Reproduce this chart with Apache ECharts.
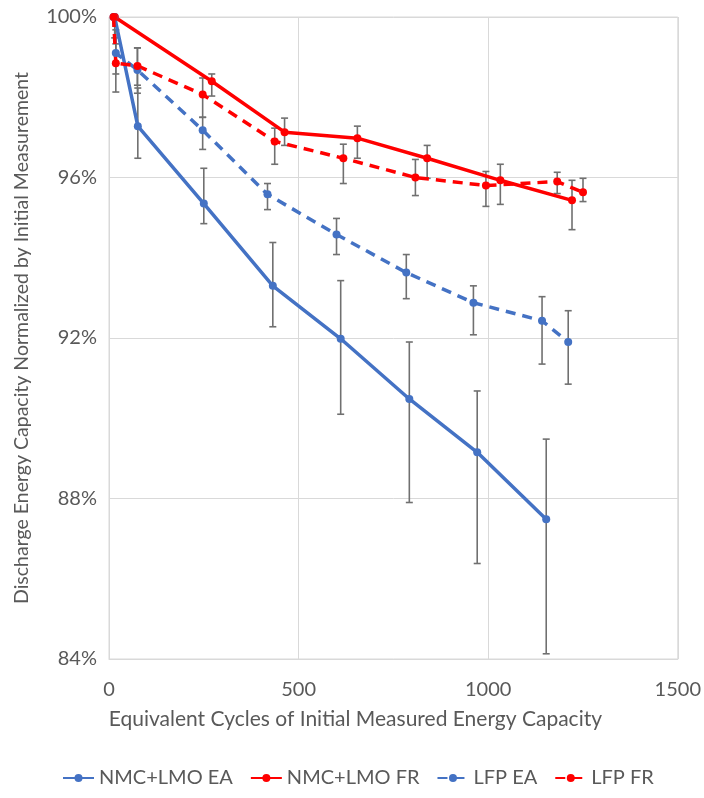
<!DOCTYPE html>
<html>
<head>
<meta charset="utf-8">
<script src="https://cdn.jsdelivr.net/npm/echarts@6/dist/echarts.min.js"></script>
<style>html,body{margin:0;padding:0;background:#fff}#c{width:704px;height:798px}</style>
</head>
<body>
<div id="c"></div>
<script>
// NMC+LMO EA
const nmcEaX = [15, 76, 250, 432, 611, 792, 971, 1153];
const nmcEaY = [100, 97.28, 95.35, 93.3, 91.98, 90.48, 89.15, 87.48];
const nmcEaHi = [100, 98.23, 96.23, 94.38, 93.43, 91.9, 90.68, 89.48];
const nmcEaLo = [99.48, 96.48, 94.85, 92.28, 90.1, 87.9, 86.38, 84.13];
// NMC+LMO FR
const nmcFrX = [15, 271, 463, 655, 839, 1032, 1221];
const nmcFrY = [100, 98.4, 97.13, 96.98, 96.48, 95.93, 95.43];
const nmcFrHi = [100, 98.58, 97.48, 97.28, 96.8, 96.33, 95.93];
const nmcFrLo = [100, 98.03, 96.8, 96.48, 95.98, 95.33, 94.7];
// LFP EA
const lfpEaX = [12, 18, 75, 247, 418, 600, 784, 961, 1142, 1211];
const lfpEaY = [100, 99.1, 98.68, 97.18, 95.58, 94.58, 93.63, 92.88, 92.43, 91.9];
const lfpEaHi = [100, 99.68, 99.23, 97.5, 95.85, 94.98, 94.08, 93.3, 93.03, 92.68];
const lfpEaLo = [100, 98.58, 98.1, 96.7, 95.2, 94.08, 92.98, 92.08, 91.35, 90.85];
// LFP FR
const lfpFrX = [12, 18, 75, 247, 437, 618, 808, 994, 1182, 1250];
const lfpFrY = [100, 98.85, 98.78, 98.07, 96.9, 96.48, 96.0, 95.8, 95.9, 95.63];
const lfpFrHi = [100, 99.33, 99.23, 98.48, 97.23, 96.83, 96.45, 96.15, 96.13, 95.98];
const lfpFrLo = [100, 98.13, 98.3, 97.5, 96.33, 95.85, 95.55, 95.28, 95.6, 95.4];

const seriesNames = ['NMC+LMO EA', 'NMC+LMO FR', 'LFP EA', 'LFP FR'];
const yTicks = [84, 88, 92, 96, 100];
const xTicks = [0, 500, 1000, 1500];

const BLUE = '#4472C4', RED = '#FF0000';
const FONT = 'Lato';

function pts(xs, ys) { return xs.map((x, i) => [x, ys[i]]); }
function errs(xs, lo, hi) { return xs.map((x, i) => [x, lo[i], hi[i]]); }

function lineSeries(name, xs, ys, color, dashed) {
  return {
    name, type: 'line', data: pts(xs, ys), z: 5,
    symbol: 'circle', symbolSize: 8, showSymbol: true,
    lineStyle: { color, width: 3.5, type: dashed ? [10, 7] : 'solid' },
    itemStyle: { color },
    animation: false
  };
}
function errSeries(xs, lo, hi) {
  return {
    type: 'custom', z: 3, silent: true, animation: false,
    data: errs(xs, lo, hi),
    renderItem(params, api) {
      const x = api.value(0);
      const a = api.coord([x, api.value(1)]);
      const b = api.coord([x, api.value(2)]);
      if (Math.abs(a[1] - b[1]) < 0.5) return null;
      const w = 3.5;
      const st = { stroke: '#707070', lineWidth: 1.6 };
      return {
        type: 'group', children: [
          { type: 'line', shape: { x1: a[0], y1: a[1], x2: b[0], y2: b[1] }, style: st },
          { type: 'line', shape: { x1: a[0] - w, y1: a[1], x2: a[0] + w, y2: a[1] }, style: st },
          { type: 'line', shape: { x1: b[0] - w, y1: b[1], x2: b[0] + w, y2: b[1] }, style: st }
        ]
      };
    }
  };
}

const chart = echarts.init(document.getElementById('c'));
chart.setOption({
  backgroundColor: '#fff',
  textStyle: { fontFamily: FONT },
  grid: { left: 109, right: 25, top: 17, bottom: 139, show: true, borderColor: '#d9d9d9', borderWidth: 1 },
  xAxis: {
    type: 'value', min: xTicks[0], max: xTicks[xTicks.length - 1], interval: 500,
    name: 'Equivalent Cycles of Initial Measured Energy Capacity',
    nameLocation: 'middle', nameGap: 50,
    nameTextStyle: { fontFamily: FONT, fontSize: 21, color: '#595959', padding: [0, 76, 0, 0] },
    axisLine: { lineStyle: { color: '#d9d9d9' } },
    axisTick: { show: false },
    axisLabel: { fontFamily: FONT, fontSize: 20, color: '#595959', margin: 21, formatter: v => String(v) },
    splitLine: { lineStyle: { color: '#d9d9d9' } }
  },
  yAxis: {
    type: 'value', min: yTicks[0], max: yTicks[yTicks.length - 1], interval: 4,
    name: 'Discharge Energy Capacity Normalized by Initial Measurement',
    nameLocation: 'middle', nameGap: 77, nameRotate: 90,
    nameTextStyle: { fontFamily: FONT, fontSize: 19.5, color: '#595959' },
    axisLine: { show: true, lineStyle: { color: '#d9d9d9' } },
    axisTick: { show: false },
    axisLabel: { fontFamily: FONT, fontSize: 20, color: '#595959', margin: 12, formatter: v => v + '%' },
    splitLine: { lineStyle: { color: '#d9d9d9' } }
  },
  legend: {
    data: seriesNames, bottom: 5, left: 57, itemGap: 17, itemWidth: 31, itemHeight: 10,
    textStyle: { fontFamily: FONT, fontSize: 20, color: '#595959' }
  },
  series: [
    lineSeries(seriesNames[0], nmcEaX, nmcEaY, BLUE, false),
    lineSeries(seriesNames[1], nmcFrX, nmcFrY, RED, false),
    lineSeries(seriesNames[2], lfpEaX, lfpEaY, BLUE, true),
    lineSeries(seriesNames[3], lfpFrX, lfpFrY, RED, true),
    errSeries(nmcEaX, nmcEaLo, nmcEaHi),
    errSeries(nmcFrX, nmcFrLo, nmcFrHi),
    errSeries(lfpEaX, lfpEaLo, lfpEaHi),
    errSeries(lfpFrX, lfpFrLo, lfpFrHi)
  ]
});
</script>
</body>
</html>
